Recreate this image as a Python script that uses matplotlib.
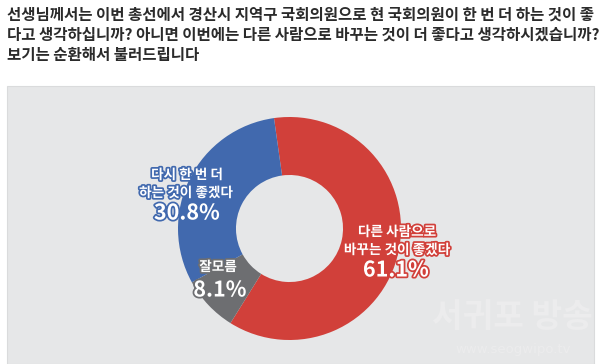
import matplotlib
matplotlib.use("Agg")
import matplotlib.pyplot as plt
import matplotlib.patheffects as pe
from matplotlib.patches import Rectangle

plt.rcParams['font.family'] = ['Noto Sans CJK KR', 'DejaVu Sans']

title_lines = [
    "선생님께서는 이번 총선에서 경산시 지역구 국회의원으로 현 국회의원이 한 번 더 하는 것이 좋",
    "다고 생각하십니까? 아니면 이번에는 다른 사람으로 바꾸는 것이 더 좋다고 생각하시겠습니까?",
    "보기는 순환해서 불러드립니다",
]
categories = ["다른 사람으로\n바꾸는 것이 좋겠다", "잘모름", "다시 한 번 더\n하는 것이 좋겠다"]
values = [61.1, 8.1, 30.8]
colors = ["#D1403A", "#6D6E71", "#4169AE"]

W, H = 600, 364
fig = plt.figure(figsize=(W / 100, H / 100), dpi=100)
fig.patch.set_facecolor("white")

def fx(x):
    return x / W

def fy(y):
    return 1 - y / H

# gray panel
fig.patches.append(Rectangle((fx(7), 0), fx(594) - fx(7), fy(86), transform=fig.transFigure,
                             facecolor="#E6E7E8", edgecolor="#DADBDC", lw=0.8, zorder=-5))

# title
for i, line in enumerate(title_lines):
    fig.text(fx(7), fy(15 + 20 * i), line, fontsize=11.2, color="#2B2B2B",
             ha="left", va="center", fontweight="semibold")

# donut
cx, cy, r = 289.5, 228.5, 111.5
ax = fig.add_axes([fx(cx - r), fy(cy + r), 2 * r / W, 2 * r / H], zorder=2)
ax.pie(values, colors=colors, startangle=98, counterclock=False,
       wedgeprops=dict(width=0.52, edgecolor="none"), radius=1)
ax.set_xlim(-1, 1)
ax.set_ylim(-1, 1)
ax.set_aspect("auto")
ax.axis("off")
ax.patch.set_alpha(0)

# labels
def label(x, y, txt, size, stroke):
    t = fig.text(fx(x), fy(y), txt, fontsize=size, color="white", ha="center", va="center",
                 fontweight="bold",
                 path_effects=[pe.withStroke(linewidth=2.5, foreground=stroke)])
    t.set_zorder(5)

blue_lines = categories[2].split("\n")
label(187, 175, blue_lines[0], 9.8, colors[2])
label(186, 193, blue_lines[1], 9.8, colors[2])
label(187, 213, f"{values[2]}%", 15.5, colors[2])

red_lines = categories[0].split("\n")
label(397, 232, red_lines[0], 9.8, colors[0])
label(397, 250, red_lines[1], 9.8, colors[0])
label(396, 270, f"{values[0]}%", 15.5, colors[0])

label(218, 267, categories[1], 9.8, colors[1])
label(220, 290, f"{values[1]}%", 15.5, colors[1])

# watermark
fig.text(fx(512), fy(318), "서귀포 방송", fontsize=24, color="#ECECED", ha="center",
         va="center", fontweight="bold", zorder=1)
fig.text(fx(513), fy(350), "www.seogwipo.tv", fontsize=9.5, color="#ECECED", ha="center",
         va="center", family=["DejaVu Sans"], zorder=1)

fig.savefig("out.png", dpi=100, facecolor="white")
